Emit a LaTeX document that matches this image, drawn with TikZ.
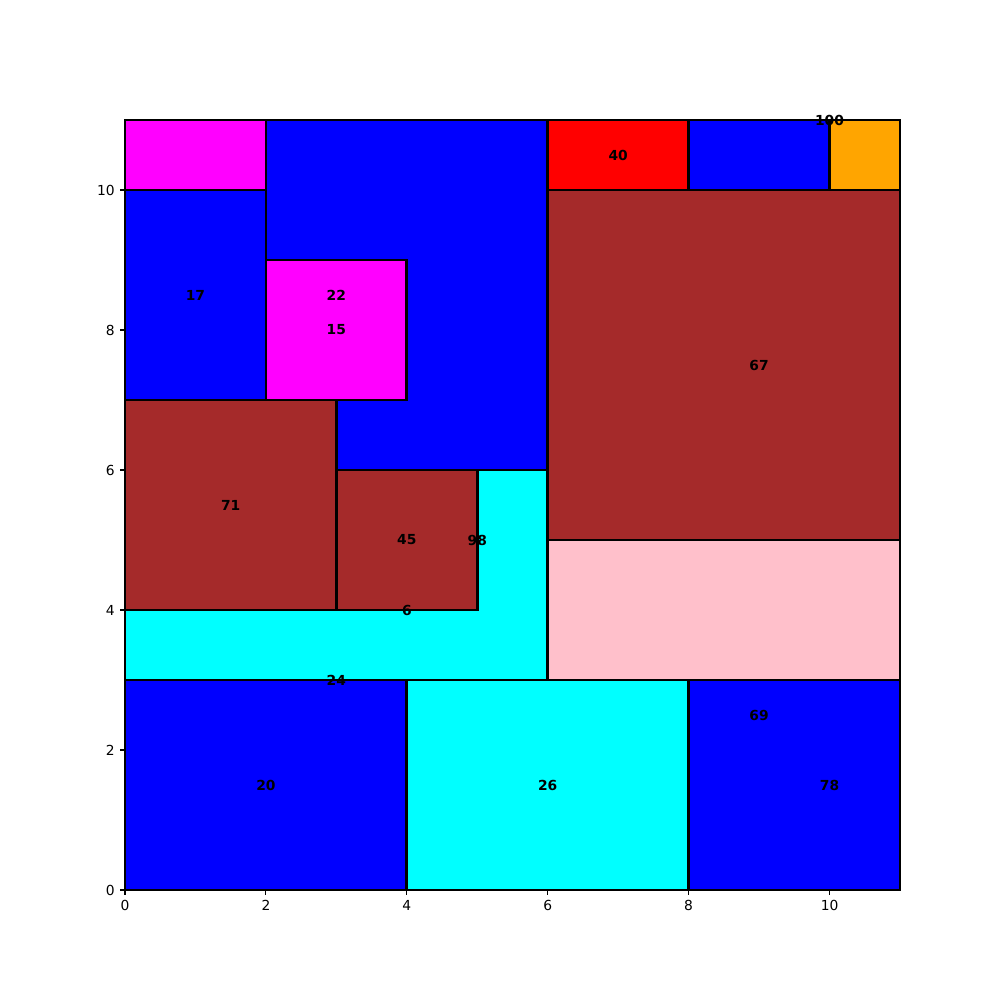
\documentclass[tikz,border=0pt]{standalone}
\usepackage{fontspec}
\setmainfont{DejaVu Sans}
\definecolor{mblue}{HTML}{0000FF}
\definecolor{mmag}{HTML}{FF00FF}
\definecolor{mbrown}{HTML}{A52A2A}
\definecolor{mcyan}{HTML}{00FFFF}
\definecolor{mred}{HTML}{FF0000}
\definecolor{morange}{HTML}{FFA500}
\definecolor{mpink}{HTML}{FFC0CB}
\begin{document}
\begin{tikzpicture}[x=0.70455in, y=0.7in,
  box/.style={draw=black, line width=2pt},
  lbl/.style={font=\fontsize{10}{12}\selectfont\bfseries, inner sep=0pt, anchor=center},
  tick/.style={line width=0.8pt},
  ticklbl/.style={font=\fontsize{10}{12}\selectfont, inner sep=0pt}]
\useasboundingbox (-1.25in,-1.1in) rectangle (8.75in,8.9in);
\begin{scope}
\clip (0,0) rectangle (11,11);
\fill[mblue] (2,6) rectangle (6,11); \draw[box] (2,6) rectangle (6,11);
\fill[mmag] (0,10) rectangle (2,11); \draw[box] (0,10) rectangle (2,11);
\fill[mblue] (0,7) rectangle (2,10); \draw[box] (0,7) rectangle (2,10);
\fill[mmag] (2,7) rectangle (4,9); \draw[box] (2,7) rectangle (4,9);
\fill[mcyan] (0,3) rectangle (6,6); \draw[box] (0,3) rectangle (6,6);
\fill[mbrown] (0,4) rectangle (3,7); \draw[box] (0,4) rectangle (3,7);
\fill[mbrown] (3,4) rectangle (5,6); \draw[box] (3,4) rectangle (5,6);
\fill[mred] (6,10) rectangle (8,11); \draw[box] (6,10) rectangle (8,11);
\fill[mblue] (8,10) rectangle (10,11); \draw[box] (8,10) rectangle (10,11);
\fill[morange] (10,10) rectangle (11,11); \draw[box] (10,10) rectangle (11,11);
\fill[mbrown] (6,5) rectangle (11,10); \draw[box] (6,5) rectangle (11,10);
\fill[mpink] (6,3) rectangle (11,5); \draw[box] (6,3) rectangle (11,5);
\fill[mblue] (0,0) rectangle (4,3); \draw[box] (0,0) rectangle (4,3);
\fill[mcyan] (4,0) rectangle (8,3); \draw[box] (4,0) rectangle (8,3);
\fill[mblue] (8,0) rectangle (11,3); \draw[box] (8,0) rectangle (11,3);
\end{scope}
\draw[line width=0.8pt] (0,0) rectangle (11,11);
\foreach \v in {0,2,...,10} {
  \draw[tick] (\v,0) -- ++(0,-3.5pt) node[ticklbl, anchor=north, yshift=-3.5pt] (xt\v) {\v};
  \draw[tick] (0,\v) -- ++(-3.5pt,0) node[ticklbl, anchor=east, xshift=-3.5pt] (yt\v) {\v};
}
\node[lbl] (l17) at (1,8.5) {17};
\node[lbl] (l22) at (3,8.5) {22};
\node[lbl] (l15) at (3,8) {15};
\node[lbl] (l71) at (1.5,5.5) {71};
\node[lbl] (l45) at (4,5) {45};
\node[lbl] (l98) at (5,5) {98};
\node[lbl] (l6) at (4,4) {6};
\node[lbl] (l24) at (3,3) {24};
\node[lbl] (l20) at (2,1.5) {20};
\node[lbl] (l26) at (6,1.5) {26};
\node[lbl] (l69) at (9,2.5) {69};
\node[lbl] (l78) at (10,1.5) {78};
\node[lbl] (l67) at (9,7.5) {67};
\node[lbl] (l40) at (7,10.5) {40};
\node[lbl] (l100) at (10,11) {100};
\end{tikzpicture}
\end{document}
